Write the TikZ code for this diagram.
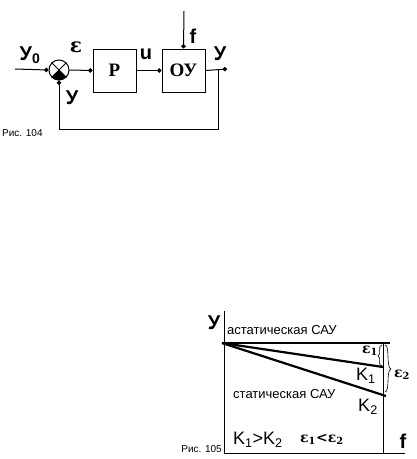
\documentclass[tikz,border=0pt]{standalone}
\usepackage{fontspec}
\setmainfont{Liberation Sans}
\newfontfamily\serifb{Liberation Serif}
\newfontfamily\djv{DejaVu Serif}
\usetikzlibrary{arrows.meta}
\tikzset{
 x=1pt,y=-1pt,
 blockbox/.style={draw,line width=1pt,minimum width=43pt,minimum height=43pt,inner sep=0pt,font=\serifb\bfseries\fontsize{19}{19}\selectfont},
 wire/.style={line width=1pt,-{Circle[length=4.4pt,width=4.4pt]}},
 plain/.style={line width=1pt},
 lab/.style={inner sep=0pt,font=\bfseries\fontsize{20}{20}\selectfont},
 figcap/.style={inner sep=0pt,font=\fontsize{10}{11}\selectfont},
 txt/.style={inner sep=0pt,font=\fontsize{13}{14}\selectfont},
 big/.style={inner sep=0pt,font=\fontsize{18}{18}\selectfont},
 eps/.style={inner sep=0pt,font=\djv\bfseries\fontsize{14}{14}\selectfont},
 thickline/.style={line width=2.2pt}
}
\begin{document}
\begin{tikzpicture}
\useasboundingbox (0,0) rectangle (417,459);
% fig 104
\node[blockbox] (p) at (114.5,70.5) {P};
\node[blockbox] (ou) at (183.5,70.5) {ОУ};
\node[draw,circle,line width=1pt,minimum size=20pt,inner sep=0pt] (s) at (59,70) {};
\fill (s.center) -- (s.south west) arc (225:315:10pt) -- cycle;
\draw[plain] (s.north west) -- (s.south east) (s.north east) -- (s.south west);
\coordinate (in) at (15,69);
\coordinate (ftop) at (184,11);
\coordinate (j) at (218,69);
\coordinate (oend) at (227,69);
\coordinate (c1) at (218,129);
\coordinate (c2) at (59,129);
\draw[wire] (in) -- (s.west);
\draw[wire] (s.east) -- (p.west);
\draw[wire] (p.east) -- (ou.west);
\draw[wire] (ftop) -- (ou.north);
\draw[wire] (ou.east) -- (oend);
\draw[wire] (j) -- (c1) -- (c2) -- (s.south);
\node[lab] (ly0) at (30,55) {У\textsubscript{0}};
\node[lab] (le) at (76,47) {\djv\bfseries ε};
\node[lab] (lu) at (146,54) {u};
\node[lab] (lf) at (193,36) {f};
\node[lab] (ly1) at (220,54) {У};
\node[lab] (ly2) at (72,98) {У};
\node[figcap,anchor=west] (c104) at (2,133) {Рис. 104};
% fig 105
\coordinate (ax) at (224,311);
\coordinate (o) at (224,453);
\coordinate (bx) at (405,453);
\coordinate (a) at (222,343);
\coordinate (b) at (390,343);
\coordinate (v) at (383,343);
\coordinate (v2) at (383,453);
\coordinate (k1) at (383,367);
\coordinate (k2) at (386,396);
\draw[plain] (ax) -- (o) -- (bx);
\draw[plain] (v) -- (v2);
\draw[thickline] (a) -- (b);
\draw[thickline] (a) -- (k1);
\draw[thickline] (a) -- (k2);
\node[lab] (ly3) at (214,323) {У};
\node[txt,anchor=west] (t1) at (227,330) {астатическая САУ};
\node[txt,anchor=west] (t2) at (233,394) {статическая САУ};
\node[big] (lk1) at (366,376) {K\textsubscript{1}};
\node[big] (lk2) at (368,407) {K\textsubscript{2}};
\node[big,anchor=west] (lkk) at (233,440) {K\textsubscript{1}>K\textsubscript{2}};
\node[eps,anchor=west] (lee) at (300,439) {ε\textsubscript{1}<ε\textsubscript{2}};
\node[lab] (lf2) at (403,441) {f};
\node[figcap,anchor=east] (c105) at (222,449) {Рис. 105};
\node[eps] (le1) at (370,351) {ε\textsubscript{1}};
\node[eps] (le2) at (402,375) {ε\textsubscript{2}};
\draw[line width=.6pt] (382,345) .. controls (377,345) and (382,355) .. (378,356) .. controls (382,357) and (377,366) .. (382,366);
\draw[line width=.6pt] (385,345) .. controls (390,345) and (386,368) .. (391,369) .. controls (386,370) and (390,392) .. (385,392);
\end{tikzpicture}
\end{document}
